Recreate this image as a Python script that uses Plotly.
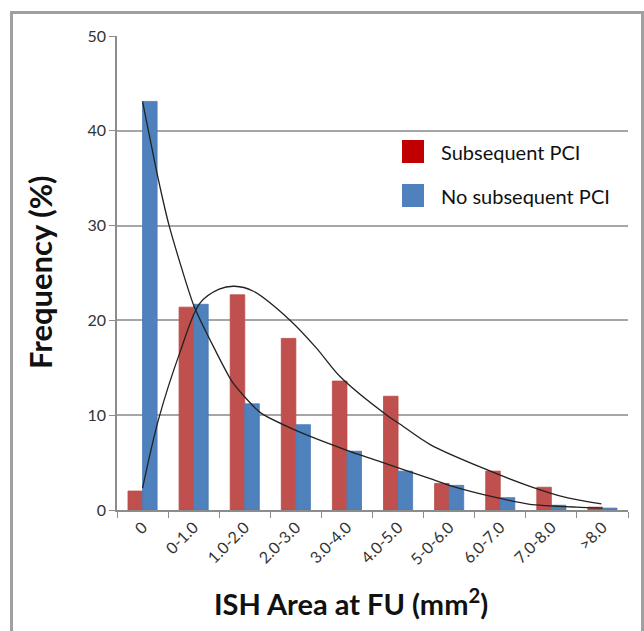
import plotly.graph_objects as go

categories = ["0", "0-1.0", "1.0-2.0", "2.0-3.0", "3.0-4.0", "4.0-5.0",
              "5-0-6.0", "6.0-7.0", "7.0-8.0", ">8.0"]
subsequent_pci = [2.0, 21.4, 22.7, 18.1, 13.6, 12.0, 2.8, 4.1, 2.4, 0.3]
no_subsequent_pci = [43.1, 21.7, 11.2, 9.0, 6.2, 4.1, 2.6, 1.3, 0.5, 0.2]

# trend curves (x in category-index units)
red_curve_x = [0, 0.31, 0.73, 1.12, 1.5, 1.8, 2.16, 2.89, 3.4, 3.86, 4.78, 5.0, 5.63, 6.76, 7.58, 8.3, 8.98]
red_curve_y = [2.3, 9.5, 16.6, 21.8, 23.3, 23.6, 23.1, 20.0, 17.1, 14.1, 10.0, 9.2, 6.9, 4.2, 2.5, 1.3, 0.65]
blue_curve_x = [0, 0.3, 0.52, 1.0, 1.4, 1.77, 2.3, 3.0, 4.0, 4.65, 5.63, 6.0, 6.93, 7.58, 8.5, 9.0]
blue_curve_y = [43.1, 35.1, 30.0, 21.6, 17.1, 13.4, 10.3, 8.4, 6.3, 5.1, 3.3, 2.6, 1.3, 0.6, 0.3, 0.2]

series_names = ["Subsequent PCI", "No subsequent PCI"]
y_ticks = [0, 10, 20, 30, 40, 50]
x_title = "<b>ISH Area at FU (mm<sup>2</sup>)</b>"
y_title = "<b>Frequency (%)</b>"

RED = "#C0504D"
BLUE = "#4F81BD"
FONT = "Lato"

idx = list(range(len(categories)))

fig = go.Figure()
fig.add_trace(go.Bar(x=idx, y=subsequent_pci, name=series_names[0],
                     marker=dict(color=RED, line=dict(color="#B94A47", width=0.8)),
                     showlegend=False))
fig.add_trace(go.Bar(x=idx, y=no_subsequent_pci, name=series_names[1],
                     marker=dict(color=BLUE, line=dict(color="#4A7AB5", width=0.8)),
                     showlegend=False))
fig.add_trace(go.Scatter(x=red_curve_x, y=red_curve_y, mode="lines",
                         line=dict(color="#222222", width=1.3, shape="spline", smoothing=0.9),
                         showlegend=False, hoverinfo="skip"))
fig.add_trace(go.Scatter(x=blue_curve_x, y=blue_curve_y, mode="lines",
                         line=dict(color="#222222", width=1.3, shape="spline", smoothing=0.6),
                         showlegend=False, hoverinfo="skip"))

W, H = 644, 631
L, R, T, B = 117, 16, 36, 121
pw = W - L - R
ph = H - T - B

def px_x(p):
    return (p - L) / pw

def px_y(p):
    return (H - B - p) / ph

shapes = [
    # outer frame
    dict(type="rect", xref="paper", yref="paper",
         x0=px_x(11.5), x1=px_x(642.5), y0=px_y(660), y1=px_y(12.5),
         line=dict(color="#A0A0A0", width=3), fillcolor="rgba(0,0,0,0)"),
    # legend swatches
    dict(type="rect", xref="paper", yref="paper",
         x0=px_x(402), x1=px_x(424), y0=px_y(163), y1=px_y(140),
         line=dict(width=0), fillcolor="#C00000"),
    dict(type="rect", xref="paper", yref="paper",
         x0=px_x(402), x1=px_x(424), y0=px_y(207), y1=px_y(184),
         line=dict(width=0), fillcolor=BLUE),
]

annotations = [
    dict(text=series_names[0], xref="paper", yref="paper", x=px_x(439), y=px_y(152),
         xanchor="left", yanchor="middle", showarrow=False,
         font=dict(family=FONT, size=20, color="#111")),
    dict(text=series_names[1], xref="paper", yref="paper", x=px_x(439), y=px_y(196),
         xanchor="left", yanchor="middle", showarrow=False,
         font=dict(family=FONT, size=20, color="#111")),
    dict(text=x_title, xref="paper", yref="paper", x=px_x(351), y=px_y(602),
         xanchor="center", yanchor="middle", showarrow=False,
         font=dict(family=FONT, size=29, color="#111")),
    dict(text=y_title, xref="paper", yref="paper", x=px_x(40), y=px_y(272),
         xanchor="center", yanchor="middle", showarrow=False, textangle=-90,
         font=dict(family=FONT, size=31, color="#111")),
]

fig.update_layout(
    width=W, height=H,
    margin=dict(l=L, r=R, t=T, b=B, pad=0, autoexpand=False),
    paper_bgcolor="white", plot_bgcolor="white",
    barmode="group", bargap=0.43, bargroupgap=0,
    font=dict(family=FONT, color="#333"),
    shapes=shapes, annotations=annotations,
    xaxis=dict(range=[-0.5, 9.5], tickmode="array", tickvals=idx, ticktext=categories,
               tickangle=-45, ticks="", showgrid=False, zeroline=False, automargin=False,
               showline=True, linecolor="#8C8C8C", linewidth=1.5,
               tickfont=dict(family=FONT, size=16, color="#333"),
               minor=dict(tickmode="linear", tick0=-0.5, dtick=1, ticks="outside",
                          ticklen=6, tickcolor="#8C8C8C", tickwidth=1.2, showgrid=False)),
    yaxis=dict(range=[0, 50], tickmode="array", tickvals=y_ticks, automargin=False,
               ticks="outside", ticklen=6, tickcolor="#8C8C8C", tickwidth=1.2,
               showgrid=True, gridcolor="#A6A6A6", gridwidth=1.5, zeroline=False,
               showline=True, linecolor="#8C8C8C", linewidth=1.5,
               tickfont=dict(family=FONT, size=16, color="#333")),
)

fig.write_html("out.html", config={"displayModeBar": False},
               post_script="document.body.style.margin='0';document.body.style.padding='0';")
